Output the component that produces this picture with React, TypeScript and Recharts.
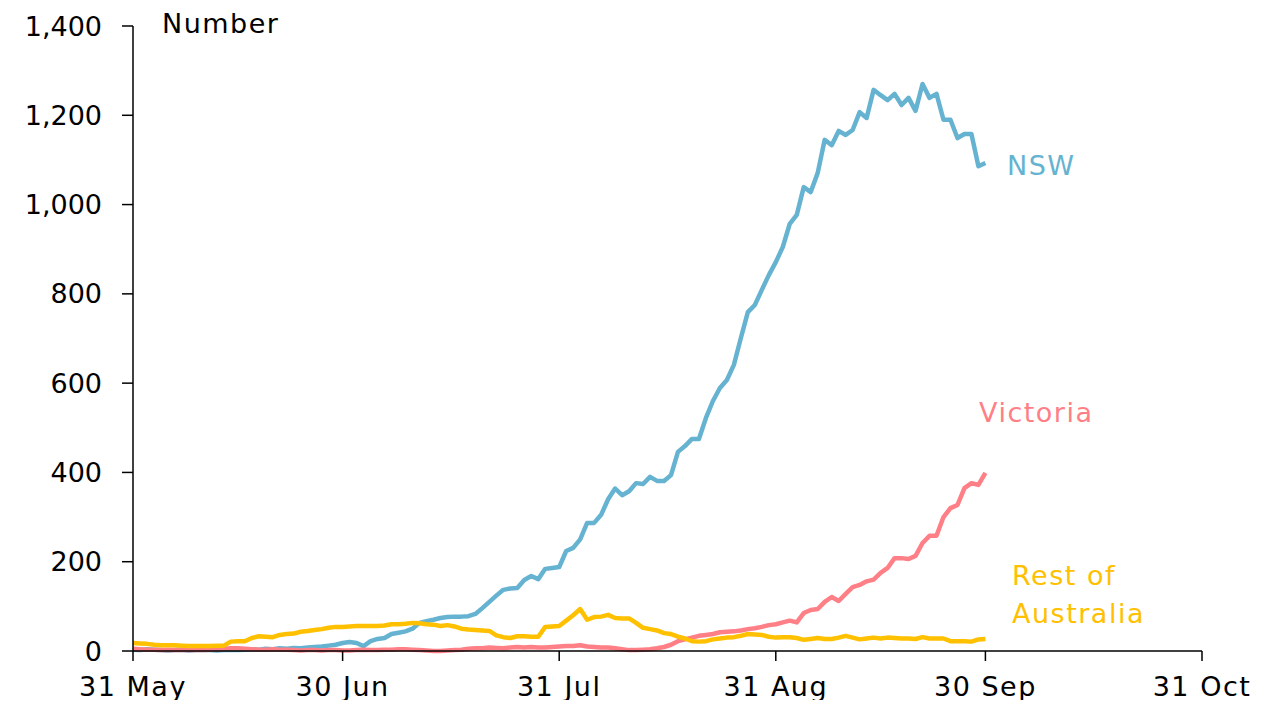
import { CartesianGrid, Line, LineChart, XAxis, YAxis } from "recharts";

const tickDays = [0, 30, 61, 92, 122, 153];
const tickLabels = ["31 May", "30 Jun", "31 Jul", "31 Aug", "30 Sep", "31 Oct"];
const yTicks = [0, 200, 400, 600, 800, 1000, 1200, 1400];

// daily cases, one value per day starting 31 May
const nsw = [
  3, 2, 4, 3, 2, 1, 2, 3, 1, 2,
  3, 2, 1, 2, 3, 2, 3, 4, 3, 5,
  4, 6, 5, 7, 6, 8, 9, 10, 12, 14,
  18, 20, 18, 11, 22, 27, 29, 38, 41, 44,
  50, 63, 67, 70, 74, 76, 77, 77, 78, 83,
  96, 110, 124, 137, 140, 141, 159, 168, 161, 184,
  186, 188, 224, 231, 250, 287, 287, 305, 340, 364,
  349, 358, 376, 374, 390, 381, 381, 394, 446, 459,
  475, 475, 522, 560, 589, 607, 641, 701, 759, 775,
  809, 842, 871, 905, 957, 977, 1039, 1028, 1071, 1145,
  1133, 1165, 1156, 1167, 1207, 1194, 1257, 1245, 1234, 1248,
  1223, 1239, 1210, 1270, 1239, 1248, 1190, 1190, 1149, 1158,
  1158, 1086, 1093,
];

const victoria = [
  5, 4, 3, 3, 2, 3, 2, 2, 3, 2,
  2, 3, 4, 5, 6, 6, 5, 4, 3, 3,
  4, 3, 3, 2, 1, 2, 2, 1, 2, 2,
  1, 1, 2, 3, 2, 2, 3, 3, 4, 4,
  3, 2, 1, 0, 0, 1, 2, 3, 5, 6,
  6, 8, 7, 6, 8, 9, 8, 9, 8, 8,
  9, 10, 11, 11, 13, 10, 9, 8, 8, 6,
  4, 2, 2, 3, 4, 6, 9, 14, 22, 26,
  30, 34, 36, 38, 42, 43, 44, 46, 49, 51,
  54, 58, 60, 64, 68, 64, 85, 92, 94, 110,
  121, 112, 128, 143, 148, 156, 160, 175, 186, 208,
  208, 206, 213, 242, 258, 258, 300, 320, 327, 365,
  376, 372, 399,
];

const restOfAustralia = [
  18, 17, 16, 14, 13, 13, 13, 12, 11, 11,
  11, 11, 12, 12, 21, 22, 22, 29, 33, 32,
  31, 36, 38, 39, 43, 45, 47, 49, 52, 54,
  54, 55, 56, 56, 56, 56, 57, 60, 60, 61,
  63, 62, 60, 59, 56, 58, 55, 50, 48, 47,
  46, 45, 35, 31, 29, 33, 33, 32, 32, 54,
  55, 56, 68, 80, 94, 70, 76, 77, 81, 74,
  73, 73, 63, 52, 49, 46, 40, 38, 32, 28,
  22, 21, 22, 26, 28, 30, 31, 34, 38, 37,
  36, 32, 30, 31, 31, 29, 25, 27, 29, 27,
  27, 30, 34, 30, 26, 28, 30, 28, 30, 29,
  28, 28, 27, 31, 28, 28, 28, 22, 22, 22,
  21, 26, 27,
];

const data = nsw.map((v, i) => ({ day: i, nsw: v, vic: victoria[i], rest: restOfAustralia[i] }));

const font = "'DejaVu Sans', sans-serif";
const fontSize = 27;
const blue = "#65b3d1";
const pink = "#ff7f86";
const gold = "#ffc000";

const labelStyle = (color: string, left: number, top: number) => ({
  position: "absolute" as const,
  left,
  top,
  color,
  fontFamily: font,
  fontSize,
  letterSpacing: 1.5,
  lineHeight: "38px",
  whiteSpace: "nowrap" as const,
});

export default function App() {
  return (
    <div style={{ position: "relative", width: 1246, height: 692 }}>
      <div style={{ position: "absolute", left: 0, top: 0 }}>
        <LineChart
          width={1246}
          height={700}
          data={data}
          margin={{ top: 18, right: 52, left: 0, bottom: 0 }}
        >
          <CartesianGrid vertical={false} horizontal={false} />
          <XAxis
            type="number"
            dataKey="day"
            domain={[0, 153]}
            ticks={tickDays}
            tickFormatter={(d) => tickLabels[tickDays.indexOf(Number(d))]}
            height={57}
            tickSize={10}
            tickMargin={16}
            stroke="#000"
            strokeWidth={1.5}
            tick={{ fill: "#000", fontFamily: font, fontSize, letterSpacing: 1.5 }}
          />
          <YAxis
            domain={[0, 1400]}
            ticks={yTicks}
            width={125}
            tickSize={11}
            tickMargin={20}
            stroke="#000"
            strokeWidth={1.5}
            tickFormatter={(v) => Number(v).toLocaleString("en-US")}
            tick={{ fill: "#000", fontFamily: font, fontSize }}
          />
          <Line type="linear" dataKey="nsw" stroke={blue} strokeWidth={4.5} dot={false} strokeLinejoin="round" isAnimationActive={false} />
          <Line type="linear" dataKey="vic" stroke={pink} strokeWidth={4.5} dot={false} strokeLinejoin="round" isAnimationActive={false} />
          <Line type="linear" dataKey="rest" stroke={gold} strokeWidth={4.5} dot={false} strokeLinejoin="round" isAnimationActive={false} />
        </LineChart>
      </div>
      <div style={labelStyle("#000", 154, -3)}>Number</div>
      <div style={labelStyle(blue, 999, 139)}>NSW</div>
      <div style={labelStyle(pink, 971, 386)}>Victoria</div>
      <div style={labelStyle(gold, 1004, 549)}>Rest of</div>
      <div style={labelStyle(gold, 1004, 587)}>Australia</div>
    </div>
  );
}
